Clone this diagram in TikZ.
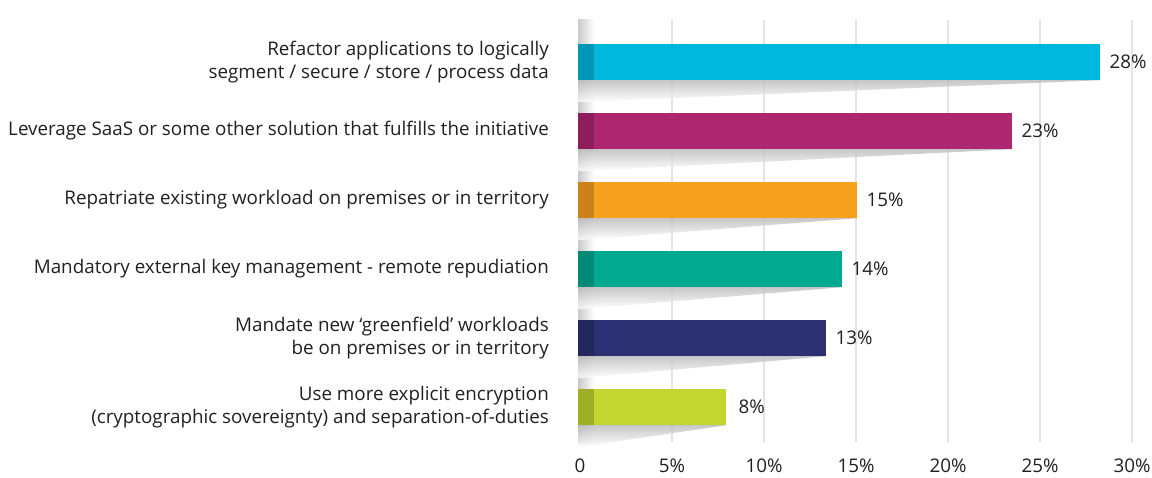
\documentclass[tikz,border=0pt]{standalone}
\usepackage{fontspec}
\setmainfont{Open Sans}
\definecolor{textgray}{HTML}{231F20}
\definecolor{gridgray}{HTML}{E4E4E4}
\definecolor{barcyan}{HTML}{00B8DE}
\definecolor{barmagenta}{HTML}{AE2570}
\definecolor{barorange}{HTML}{F8A11F}
\definecolor{barteal}{HTML}{00A98F}
\definecolor{barnavy}{HTML}{2D2F73}
\definecolor{barlime}{HTML}{C2D530}
\begin{document}
\begin{tikzpicture}[x=1pt, y=-1pt,
  font=\fontsize{18.8}{23}\selectfont, text=textgray,
  bar/.style={rectangle, inner sep=0pt, minimum height=36pt, anchor=west},
  wedge/.style={top color=gray!55, bottom color=white, opacity=.8},
  edge/.style={black, opacity=.18},
  cat/.style={anchor=east, align=right, inner sep=0pt},
  val/.style={anchor=west, inner sep=0pt},
  tick/.style={inner sep=0pt},
  grid/.style={gridgray, line width=2pt}]
\useasboundingbox (0,0) rectangle (1152,478);
% grid
\draw[grid] (672,20) -- (672,442);
\draw[grid] (764,20) -- (764,442);
\draw[grid] (856,20) -- (856,442);
\draw[grid] (948,20) -- (948,442);
\draw[grid] (1040,20) -- (1040,442);
\draw[grid] (1132,20) -- (1132,442);
\shade[left color=gray!60, right color=white, opacity=.7] (578,20) rectangle (594,442);
% bars
\node[bar, fill=barcyan, minimum width=522pt] (bar1) at (578,62) {};
\shade[wedge] (bar1.south west) -- (bar1.south east) -- ([yshift=-22pt]bar1.south west) -- cycle;
\fill[edge] (bar1.north west) rectangle ([xshift=16pt]bar1.south west);
\node[val] (val1) at ([xshift=9pt]bar1.east) {28\%};
\node[cat] (cat1) at (549,62) {Refactor applications to logically\\segment / secure / store / process data};
\node[bar, fill=barmagenta, minimum width=434pt] (bar2) at (578,131) {};
\shade[wedge] (bar2.south west) -- (bar2.south east) -- ([yshift=-22pt]bar2.south west) -- cycle;
\fill[edge] (bar2.north west) rectangle ([xshift=16pt]bar2.south west);
\node[val] (val2) at ([xshift=9pt]bar2.east) {23\%};
\node[cat] (cat2) at (549,131) {Leverage SaaS or some other solution that fulfills the initiative};
\node[bar, fill=barorange, minimum width=279pt] (bar3) at (578,200) {};
\shade[wedge] (bar3.south west) -- (bar3.south east) -- ([yshift=-22pt]bar3.south west) -- cycle;
\fill[edge] (bar3.north west) rectangle ([xshift=16pt]bar3.south west);
\node[val] (val3) at ([xshift=9pt]bar3.east) {15\%};
\node[cat] (cat3) at (549,200) {Repatriate existing workload on premises or in territory};
\node[bar, fill=barteal, minimum width=264pt] (bar4) at (578,269) {};
\shade[wedge] (bar4.south west) -- (bar4.south east) -- ([yshift=-22pt]bar4.south west) -- cycle;
\fill[edge] (bar4.north west) rectangle ([xshift=16pt]bar4.south west);
\node[val] (val4) at ([xshift=9pt]bar4.east) {14\%};
\node[cat] (cat4) at (549,269) {Mandatory external key management - remote repudiation};
\node[bar, fill=barnavy, minimum width=248pt] (bar5) at (578,338) {};
\shade[wedge] (bar5.south west) -- (bar5.south east) -- ([yshift=-22pt]bar5.south west) -- cycle;
\fill[edge] (bar5.north west) rectangle ([xshift=16pt]bar5.south west);
\node[val] (val5) at ([xshift=9pt]bar5.east) {13\%};
\node[cat] (cat5) at (549,338) {Mandate new ‘greenfield’ workloads\\be on premises or in territory};
\node[bar, fill=barlime, minimum width=148pt] (bar6) at (578,407) {};
\shade[wedge] (bar6.south west) -- (bar6.south east) -- ([yshift=-22pt]bar6.south west) -- cycle;
\fill[edge] (bar6.north west) rectangle ([xshift=16pt]bar6.south west);
\node[val] (val6) at ([xshift=12pt]bar6.east) {8\%};
\node[cat] (cat6) at (549,407) {Use more explicit encryption\\(cryptographic sovereignty) and separation-of-duties};
% axis
\node[tick] (t0) at (580,466) {0};
\node[tick] (t5) at (672,466) {5\%};
\node[tick] (t10) at (764,466) {10\%};
\node[tick] (t15) at (856,466) {15\%};
\node[tick] (t20) at (948,466) {20\%};
\node[tick] (t25) at (1040,466) {25\%};
\node[tick] (t30) at (1132,466) {30\%};
\end{tikzpicture}
\end{document}
